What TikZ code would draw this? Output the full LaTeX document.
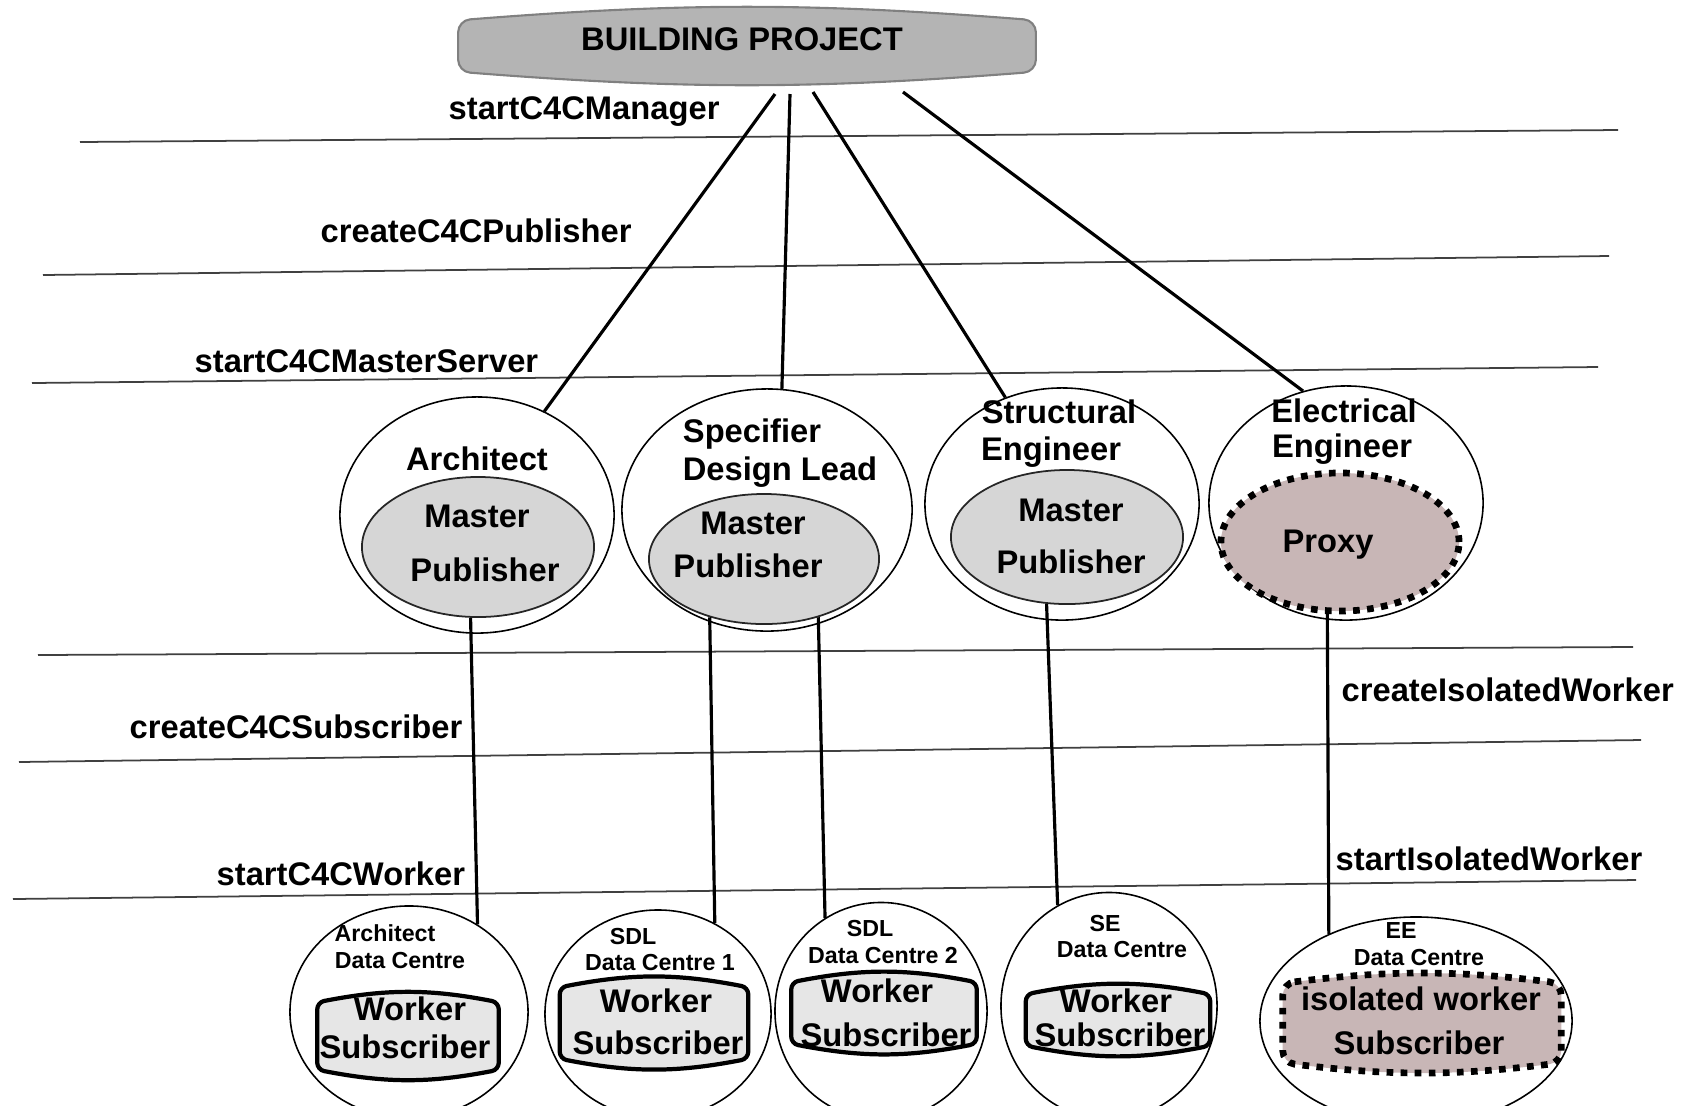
\documentclass[tikz,border=0pt]{standalone}
\usepackage{fontspec}
\setmainfont{Liberation Sans}
\usetikzlibrary{calc,positioning,shapes.geometric}

\definecolor{bpgray}{RGB}{180,180,180}
\definecolor{mpgray}{RGB}{214,214,214}
\definecolor{wkgray}{RGB}{230,230,230}
\definecolor{proxyrose}{RGB}{200,182,182}

\tikzset{
    big/.style={font=\fontsize{9.3}{11}\selectfont\bfseries, inner sep=0pt, text height=6.7pt, text depth=0pt},
    small/.style={font=\fontsize{6.6}{8}\selectfont\bfseries, inner sep=0pt, text height=4.8pt, text depth=0pt},
    oval/.style={ellipse, draw, line width=0.45pt, inner sep=0pt},
    mpoval/.style={ellipse, draw=black!85, fill=mpgray, line width=0.5pt, inner sep=0pt},
    dotted line/.style={line width=1.9pt, dash pattern=on 1.9pt off 2.1pt},
    drum/.style={rectangle, inner sep=0pt},
    level line/.style={black!75, line width=0.5pt},
    conn/.style={line width=0.9pt}
}

\begin{document}
\begin{tikzpicture}[x=0.01cm, y=-0.01cm]
    \useasboundingbox (0,0) rectangle (1682,1105);

    % phase lines
    \draw[level line] (80,142) -- (1618,130);
    \draw[level line] (43,275) -- (1609,256);
    \draw[level line] (32,383) -- (1598,367);
    \draw[level line] (38,655) -- (1633,647);
    \draw[level line] (19,762) -- (1641,740);
    \draw[level line] (13,899) -- (1636,880);

    % outer ovals
    \foreach \n/\x/\y/\w/\h in
    {arch/477/515/2.74/2.36,
        sdl/767/510/2.90/2.42,
        se/1062/504/2.74/2.32,
        ee/1346/503/2.74/2.34,
        archdc/409/1012/2.38/2.12,
        sdldc1/658/1014/2.26/2.08,
        sdldc2/881/1011/2.12/2.17,
        sedc/1109/1006/2.16/2.27,
        eedc/1416/1021/3.12/2.08
    }
    {
        \node[oval, minimum width=\w cm, minimum height=\h cm] (\n) at (\x,\y) {};
    };

    % master publishers
    \node[mpoval, minimum width=2.32cm, minimum height=1.40cm] (archmp) at (478,547) {};
    \node[mpoval, minimum width=2.30cm, minimum height=1.30cm] (sdlmp) at (764,559) {};
    \node[mpoval, minimum width=2.32cm, minimum height=1.34cm] (semp) at (1067,537) {};
    \node[ellipse, inner sep=0pt, fill=proxyrose, draw, dotted line,
        minimum width=2.38cm, minimum height=1.38cm] (eeproxy) at (1340,542) {};

    % drums
    \foreach \n/\x/\y/\w/\h in
    {bp/747/46/5.76/0.50,
        wa/408/1036/1.80/0.66,
        wb/654/1023/1.87/0.70,
        wc/884/1013/1.84/0.60,
        wd/1118/1020/1.83/0.50,
        wi/1422/1023/2.77/0.78
    }
    {
        \node[drum, minimum width=\w cm, minimum height=\h cm] (\n) at (\x,\y) {};
    };
    \draw[fill=bpgray, draw=black!50, line width=0.6pt, rounded corners=0.12cm]
    (bp.north west) to[bend left=4.5] (bp.north east) -- (bp.south east)
    to[bend left=4.5] (bp.south west) -- cycle;
    \foreach \n in {wa,wb,wc,wd}
    {
        \draw[fill=wkgray, line width=1.2pt, rounded corners=0.07cm]
        (\n.north west) to[bend left=11] (\n.north east) -- (\n.south east)
        to[bend left=11] (\n.south west) -- cycle;
    };
    \draw[fill=proxyrose, dotted line, rounded corners=0.12cm]
    (wi.north west) to[bend left=7] (wi.north east) -- (wi.south east)
    to[bend left=7] (wi.south west) -- cycle;

    % connectors
    \draw[conn] ($(bp.center)+(28,48)$) -- (arch.57);
    \draw[conn] ($(bp.center)+(43,48)$) -- (sdl.83);
    \draw[conn] ($(bp.center)+(66,46)$) -- (se.118);
    \draw[conn] ($(bp.center)+(156,46)$) -- (ee.111);
    \foreach \a/\b in {archmp.-96/archdc.52, sdlmp.-133/sdldc1.58,
        sdlmp.-47/sdldc2.121, semp.-107/sedc.117, eeproxy.-100/eedc.135}
    {
        \draw[conn] (\a) -- (\b);
    };

    % phase labels
    \node[big, anchor=west] (lmanager) at (448,108) {startC4CManager};
    \node[big, anchor=west] (lpublisher) at (320,231) {createC4CPublisher};
    \node[big, anchor=west] (lmaster) at (194,361) {startC4CMasterServer};
    \node[big, anchor=west] (lsubscriber) at (129,727) {createC4CSubscriber};
    \node[big, anchor=west] (lworker) at (216,874) {startC4CWorker};
    \node[big, anchor=west] (lcreateiso) at (1341,690) {createIsolatedWorker};
    \node[big, anchor=west] (lstartiso) at (1335,859) {startIsolatedWorker};

    % texts
    \foreach \x/\y/\t in
    {742/39/BUILDING PROJECT,
        477/459/Architect, 477/516/Master, 485/570/Publisher,
        752/431/Specifier, 780/469/Design Lead, 753/523/Master, 748/566/Publisher,
        1059/412/Structural, 1051/449/Engineer, 1071/510/Master, 1071/562/Publisher,
        1344/411/Electrical, 1342/446/Engineer, 1328/541/Proxy,
        410/1009/Worker, 405/1047/Subscriber,
        656/1001/Worker, 658/1043/Subscriber,
        877/991/Worker, 886/1035/Subscriber,
        1116/1001/Worker, 1120/1035/Subscriber,
        1421/999/isolated worker, 1419/1043/Subscriber
    }
    {
        \node[big] at (\x,\y) {\t};
    };
    \foreach \x/\y/\t in
    {385/933/Architect, 400/960/Data Centre,
        633/936/SDL, 660/962/Data Centre 1,
        870/928/SDL, 883/955/Data Centre 2,
        1105/923/SE, 1122/949/Data Centre,
        1401/930/EE, 1419/957/Data Centre
    }
    {
        \node[small] at (\x,\y) {\t};
    };
\end{tikzpicture}
\end{document}
